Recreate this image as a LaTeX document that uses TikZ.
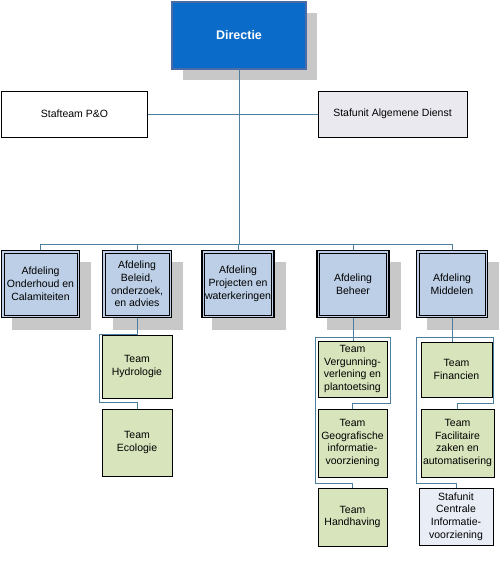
\documentclass[tikz,border=0pt]{standalone}
\usepackage{fontspec}
\setmainfont{Liberation Sans}
\usetikzlibrary{calc,backgrounds}
\definecolor{conn}{HTML}{4E7E9E}
\definecolor{dirfill}{HTML}{0B6BC8}
\definecolor{dirline}{HTML}{1A2F5A}
\definecolor{dirgap}{HTML}{4A6AA8}
\definecolor{deptfill}{HTML}{BCCFE6}
\definecolor{teamfill}{HTML}{D8E4BC}
\definecolor{shadowgray}{HTML}{C8C8C8}
\definecolor{adfill}{HTML}{EBE9F0}
\definecolor{civfill}{HTML}{E9EDF6}
\begin{document}
\begin{tikzpicture}[x=1pt,y=-1pt,
 box/.style={rectangle, draw=black, line width=0.8pt, align=center, inner sep=1pt,
   font=\fontsize{10.5}{12.8}\selectfont, text=black},
 dirbox/.style={rectangle, fill=dirfill, draw=dirline, double=dirgap, double distance=1.2pt,
   line width=0.8pt, text=white, font=\fontsize{12.5}{15}\selectfont\bfseries},
 dept/.style={box, fill=deptfill, line width=1.1pt},
 innerline/.style={draw=black, line width=0.7pt},
 shadowbox/.style={fill=shadowgray},
 team/.style={box, fill=teamfill},
 link/.style={draw=conn, line width=0.8pt},
]
\useasboundingbox (0,0) rectangle (501,569);

% top
\node[dirbox, minimum width=134, minimum height=67] (dir) at (239,35.5) {Directie};
\node[box, fill=white, minimum width=146, minimum height=46] (sp) at (74.5,114) {Stafteam P\&O};
\node[box, fill=adfill, minimum width=149, minimum height=46] (ad) at (392.5,114) {Stafunit Algemene Dienst};

% departments
\node[dept, minimum width=78, minimum height=67] (d1) at (40.5,284) {Afdeling\\Onderhoud en\\Calamiteiten};
\node[dept, minimum width=69, minimum height=67] (d2) at (137,284) {Afdeling\\Beleid,\\onderzoek,\\en advies};
\node[dept, minimum width=72, minimum height=67] (d3) at (238,284) {Afdeling\\Projecten en\\waterkeringen};
\node[dept, minimum width=72, minimum height=67] (d4) at (353,284) {Afdeling\\Beheer};
\node[dept, minimum width=71, minimum height=67] (d5) at (452,284) {Afdeling\\Middelen};
\foreach \n in {d1,d2,d3,d4,d5}
  \draw[innerline] ($(\n.north west)+(3,3)$) rectangle ($(\n.south east)+(-3,-3)$);

% shadows
\begin{pgfonlayer}{background}
  \fill[shadowbox] ($(dir.north west)+(11,11)$) rectangle ($(dir.south east)+(11,11)$);
  \foreach \n in {d1,d2,d3,d4,d5}
    \fill[shadowbox] ($(\n.north west)+(11,12)$) rectangle ($(\n.south east)+(11,12)$);
\end{pgfonlayer}

% teams
\node[team, minimum width=70, minimum height=63] (hyd) at (137,366.5) {Team\\Hydrologie};
\node[team, minimum width=70, minimum height=67] (eco) at (137,442.5) {Team\\Ecologie};
\node[team, minimum width=69, minimum height=56] (verg) at (352.5,369) {Team\\Vergunning-\\verlening en\\plantoetsing};
\node[team, minimum width=69, minimum height=68] (geo) at (352.5,443) {Team\\Geografische\\informatie-\\voorziening};
\node[team, minimum width=69, minimum height=58] (hand) at (352.5,517) {Team\\Handhaving};
\node[team, minimum width=71, minimum height=55] (fin) at (456.5,369.5) {Team\\Financien};
\node[team, minimum width=73, minimum height=68] (fac) at (457.5,443) {Team\\Facilitaire\\zaken en\\automatisering};
\node[box, fill=civfill, minimum width=74, minimum height=57] (sci) at (456,516.5) {Stafunit\\Centrale\\Informatie-\\voorziening};

% connectors
\coordinate (bus) at (239,244);
\draw[link] (dir.south) -- (bus);
\draw[link] (sp.east) -- (ad.west);
\draw[link] (d1.north) -- ++(0,-6) -| (d5.north);
\draw[link] (d2.north) -- (d2.north |- bus);
\draw[link] (d3.north) -- (d3.north |- bus);
\draw[link] (d4.north) -- (d4.north |- bus);

\coordinate (j2) at (137,334);
\draw[link] (d2.south) -- (hyd.north);
\draw[link] (j2) -| (99,402) -| (eco.north);

\coordinate (j4) at (353,337);
\draw[link] (d4.south) -- (d4.south |- verg.north);
\draw[link] (j4) -| (390,403) -| (geo.north);
\draw[link] (j4) -| (315,483) -| (hand.north);

\coordinate (j5) at (452,337);
\draw[link] (d5.south) -- (d5.south |- fin.north);
\draw[link] (j5) -| (493,403) -| (fac.north);
\draw[link] (j5) -| (416,483) -| (sci.north);
\end{tikzpicture}
\end{document}
